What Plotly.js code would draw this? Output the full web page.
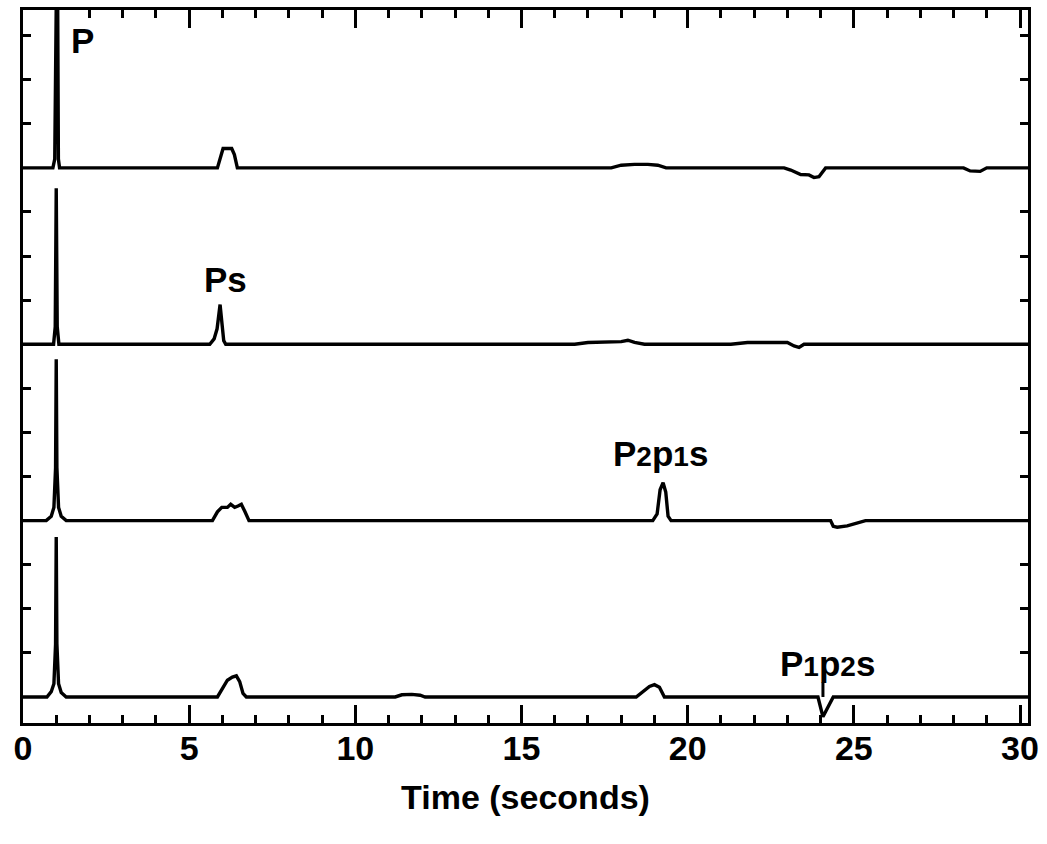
<!DOCTYPE html>
<html>
<head>
<meta charset="utf-8">
<script src="https://cdn.plot.ly/plotly-3.0.1.min.js"></script>
<style>html,body{margin:0;padding:0;background:#fff}#chart{width:1047px;height:844px}</style>
</head>
<body>
<div id="chart"></div>
<script>
// ---- Data (time in seconds, signal in panel units) ----
const timeP = [0, 0.9, 0.955, 0.99, 1.03, 1.065, 1.1, 5.85, 5.95, 6.02, 6.28, 6.36, 6.45, 17.7, 18.0, 18.4, 18.8, 19.1, 19.35, 22.9, 23.1, 23.4, 23.65, 23.8, 23.95, 24.15, 28.3, 28.5, 28.8, 29.0, 30.3];
const sigP  = [0, 0, 0.2, 6, 6, 0.2, 0, 0, 0.3, 0.44, 0.44, 0.3, 0, 0, 0.06, 0.08, 0.08, 0.06, 0, 0, -0.05, -0.15, -0.16, -0.22, -0.2, 0, 0, -0.07, -0.08, 0, 0];

const timePs = [0, 0.92, 0.97, 1.0, 1.03, 1.08, 5.62, 5.75, 5.84, 5.93, 5.99, 6.04, 6.1, 16.6, 17.0, 17.6, 18.0, 18.2, 18.4, 18.7, 21.3, 21.8, 22.5, 23.0, 23.2, 23.35, 23.5, 30.3];
const sigPs  = [0, 0, 0.4, 3.54, 0.4, 0, 0, 0.12, 0.35, 0.9, 0.45, 0.08, 0, 0, 0.04, 0.05, 0.06, 0.09, 0.04, 0, 0, 0.04, 0.03, 0.04, -0.04, -0.07, 0, 0];

const timeP2p1s = [0, 0.7, 0.85, 0.93, 0.98, 1.0, 1.02, 1.07, 1.15, 1.3, 5.7, 5.85, 5.98, 6.15, 6.25, 6.37, 6.47, 6.57, 6.68, 6.8, 18.95, 19.08, 19.17, 19.26, 19.34, 19.41, 19.5, 24.3, 24.38, 24.5, 24.8, 25.1, 25.35, 30.3];
const sigP2p1s  = [0, 0, 0.1, 0.3, 1.2, 3.66, 1.2, 0.3, 0.1, 0, 0, 0.2, 0.3, 0.3, 0.37, 0.3, 0.33, 0.37, 0.2, 0, 0, 0.15, 0.7, 0.86, 0.65, 0.1, 0, 0, -0.13, -0.15, -0.12, -0.06, 0, 0];

const timeP1p2s = [0, 0.72, 0.85, 0.93, 0.98, 1.0, 1.02, 1.07, 1.15, 1.3, 5.85, 6.0, 6.15, 6.3, 6.42, 6.52, 6.62, 6.72, 11.2, 11.4, 11.7, 11.95, 12.1, 18.45, 18.65, 18.85, 19.0, 19.15, 19.3, 23.92, 24.07, 24.38, 30.3];
const sigP1p2s  = [0, 0, 0.12, 0.3, 1.2, 3.63, 1.2, 0.3, 0.1, 0, 0, 0.2, 0.38, 0.45, 0.48, 0.35, 0.08, 0, 0, 0.05, 0.06, 0.04, 0, 0, 0.12, 0.24, 0.28, 0.22, 0, 0, -0.45, 0, 0];

const xTickVals = [0, 5, 10, 15, 20, 25, 30];
const xTickText = ['0', '5', '10', '15', '20', '25', '30'];
const xTitle = 'Time (seconds)';

// ---- Stacked panels: baseline offset of each panel ----
const series = [
  {t: timeP, s: sigP, off: 12},
  {t: timePs, s: sigPs, off: 8},
  {t: timeP2p1s, s: sigP2p1s, off: 4},
  {t: timeP1p2s, s: sigP1p2s, off: 0}
];

const traces = series.map(d => ({
  type: 'scatter', mode: 'lines',
  x: d.t, y: d.s.map(v => v + d.off),
  line: {color: '#000', width: 3.4, shape: 'linear'},
  hoverinfo: 'skip', showlegend: false
}));

const yTicks = [];
[0, 4, 8, 12].forEach(o => { yTicks.push(o + 1, o + 2, o + 3); });

const fam = '"Liberation Sans", Arial, Helvetica, sans-serif';
const lblFont = {family: fam, size: 35, color: '#000'};
const sm = s => '<span style="font-size:28px">' + s + '</span>';

const layout = {
  width: 1047, height: 844,
  margin: {l: 23, r: 19, t: 10, b: 121},
  paper_bgcolor: '#fff', plot_bgcolor: '#fff',
  showlegend: false,
  xaxis: {
    range: [0, 30.24], tickvals: xTickVals, ticktext: xTickText,
    ticks: 'inside', ticklen: 18, tickwidth: 3, tickcolor: '#000',
    minor: {dtick: 1, tick0: 0, ticks: 'inside', ticklen: 8, tickwidth: 3, tickcolor: '#000'},
    showline: true, linewidth: 3, linecolor: '#000', mirror: 'ticks',
    showgrid: false, zeroline: false,
    ticklabelstandoff: -7,
    tickfont: {family: fam, size: 34, color: '#000', weight: 'bold'},
    title: {text: xTitle, font: {family: fam, size: 34, color: '#000', weight: 'bold'}, standoff: 20}
  },
  yaxis: {
    range: [-0.59, 15.58], tickvals: yTicks, showticklabels: false,
    ticks: 'inside', ticklen: 8, tickwidth: 3, tickcolor: '#000',
    showline: true, linewidth: 3, linecolor: '#000', mirror: 'ticks',
    showgrid: false, zeroline: false
  },
  shapes: [
    {type: 'line', xref: 'x', yref: 'y', x0: 24.07, x1: 24.07, y0: 0, y1: 0.33, line: {color: '#000', width: 3}}
  ],
  annotations: [
    {x: 1.78, y: 14.89, text: '<b>P</b>'},
    {x: 6.09, y: 9.46, text: '<b>Ps</b>'},
    {x: 19.17, y: 5.52, text: '<b>P' + sm('2') + 'p' + sm('1') + 's</b>'},
    {x: 24.22, y: 0.76, text: '<b>P' + sm('1') + 'p' + sm('2') + 's</b>'}
  ].map(a => Object.assign({xref: 'x', yref: 'y', showarrow: false, xanchor: 'center', yanchor: 'middle', font: lblFont}, a))
};

Plotly.newPlot('chart', traces, layout, {staticPlot: true, displayModeBar: false});
</script>
</body>
</html>
